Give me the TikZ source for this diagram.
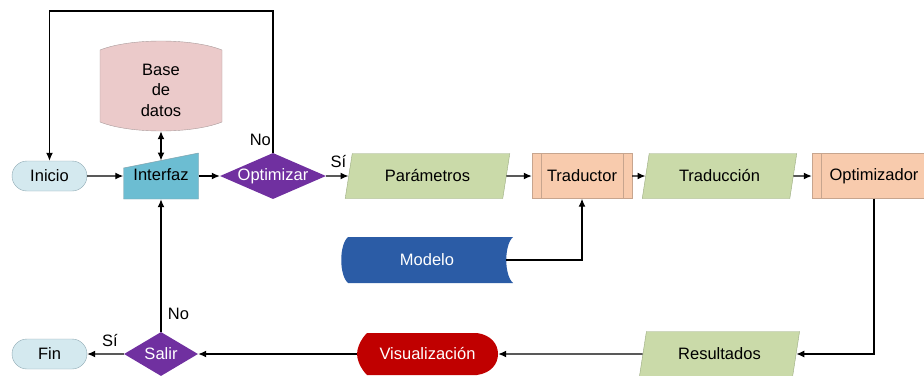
\documentclass[tikz,border=0pt]{standalone}
\usepackage{fontspec}
\setmainfont{Liberation Sans}
\usetikzlibrary{shapes.geometric,shapes.misc,arrows.meta}

\definecolor{terminalc}{HTML}{D4E9EF}
\definecolor{terminalb}{HTML}{8FA9B3}
\definecolor{interfazc}{HTML}{6CBDD2}
\definecolor{interfazb}{HTML}{7E9EA8}
\definecolor{bdc}{HTML}{EBCACA}
\definecolor{bdb}{HTML}{A99B9B}
\definecolor{decisionc}{HTML}{7030A0}
\definecolor{datosc}{HTML}{CADAA9}
\definecolor{datosb}{HTML}{9AAA80}
\definecolor{procesoc}{HTML}{F8CBAD}
\definecolor{procesob}{HTML}{C7A58E}
\definecolor{modeloc}{HTML}{2B5CA6}
\definecolor{visualc}{HTML}{C00000}

\tikzset{
  every node/.style={font=\fontsize{16.5}{20.5}\selectfont},
  terminal/.style={rounded rectangle, draw=terminalb, fill=terminalc, minimum width=75pt, minimum height=30pt, inner sep=0pt},
  decision/.style={diamond, fill=decisionc, text=white, inner sep=0pt},
  datos/.style={trapezium, trapezium left angle=72, trapezium right angle=108, trapezium stretches=true, draw=datosb, fill=datosc, minimum height=45pt, inner sep=0pt},
  proceso/.style={rectangle, draw=procesob, fill=procesoc, minimum width=100pt, minimum height=45pt,
    path picture={
      \draw[procesob] ([xshift=9pt]path picture bounding box.north west) -- ([xshift=9pt]path picture bounding box.south west);
      \draw[procesob] ([xshift=-9pt]path picture bounding box.north east) -- ([xshift=-9pt]path picture bounding box.south east);}},
  hueco/.style={rectangle, inner sep=0pt},
  flecha/.style={draw, line width=1.3pt, -{Latex[length=8pt,width=7pt]}},
}

\begin{document}
\begin{tikzpicture}[x=1pt,y=-1pt]
\useasboundingbox (0,0) rectangle (924,375);
\clip (0,0) rectangle (924,375);

% formas dibujadas a mano
\path[fill=bdc, draw=bdb] (100,50) .. controls (130,38) and (192,38) .. (222,50) -- (222,122) .. controls (192,134) and (130,134) .. (100,122) -- cycle;
\path[fill=interfazc, draw=interfazb] (123.5,199) -- (198.5,199) -- (198.5,153) -- (123.5,168) -- cycle;
\path[fill=modeloc] (348,237) -- (513,237) .. controls (504,245) and (504,275) .. (513,283) -- (348,283) .. controls (339,275) and (339,245) .. (348,237) -- cycle;
\path[fill=visualc] (367,333) -- (477,333) .. controls (491,335) and (498,344) .. (498,354) .. controls (498,364) and (491,373) .. (477,375) -- (367,375) .. controls (360,368) and (357,359) .. (357,354) .. controls (357,349) and (360,340) .. (367,333) -- cycle;

% nodos
\node[terminal] (inicio) at (49.5,176) {Inicio};
\node[hueco, minimum width=75pt, minimum height=46pt] (interfaz) at (161,176) {\raisebox{3pt}{Interfaz}};
\node[hueco, minimum width=122pt, minimum height=82pt, align=center] (bd) at (161,90) {Base\\de\\datos};
\coordinate (interfaz-arriba) at (161,160.5);
\node[decision, aspect=2.3, minimum width=102pt, minimum height=44pt] (optimizar) at (273,176) {Optimizar};
\node[datos, minimum width=165pt] (parametros) at (427.5,176) {Parámetros};
\node[proceso] (traductor) at (582,176) {Traductor};
\node[datos, minimum width=155pt] (traduccion) at (719.5,176) {Traducción};
\node[proceso, minimum width=124pt] (optimizador) at (874,176) {Optimizador};
\node[hueco, minimum width=172pt, minimum height=46pt, text=white] (modelo) at (427,260) {Modelo};
\node[datos, minimum width=161pt] (resultados) at (719.5,354) {Resultados};
\node[hueco, minimum width=141pt, minimum height=42pt, text=white] (visual) at (427.5,354) {Visualización};
\node[decision, aspect=1.7, minimum width=74pt, minimum height=44pt] (salir) at (161,354) {Salir};
\node[terminal] (fin) at (49.5,354) {Fin};

% conexiones
\path[flecha] (inicio) -- (interfaz);
\path[flecha] (interfaz) -- (optimizar);
\path[flecha] (optimizar) -- node[above=4.5pt, pos=0.55] {Sí} (parametros);
\path[flecha] (parametros) -- (traductor);
\path[flecha] (traductor) -- (traduccion);
\path[flecha] (traduccion) -- (optimizador);
\path[flecha] (optimizador.south) |- (resultados);
\path[flecha] (resultados) -- (visual);
\path[flecha] (visual) -- (salir);
\path[flecha] (salir) -- node[above=3pt, pos=0.38] {Sí} (fin);
\path[flecha] (salir) -- node[right=3pt, pos=0.135] {No} (interfaz);
\path[flecha] ([xshift=-7pt]modelo.east) -| (traductor);
\path[flecha] (optimizar.north) -- node[left, inner sep=1.5pt, pos=0.09] {No} (optimizar.north |- 0,11) -| (inicio);
\path[draw, line width=1.3pt, {Latex[length=8pt,width=7pt]}-{Latex[length=8pt,width=7pt]}] (bd) -- (interfaz-arriba);
\end{tikzpicture}
\end{document}
